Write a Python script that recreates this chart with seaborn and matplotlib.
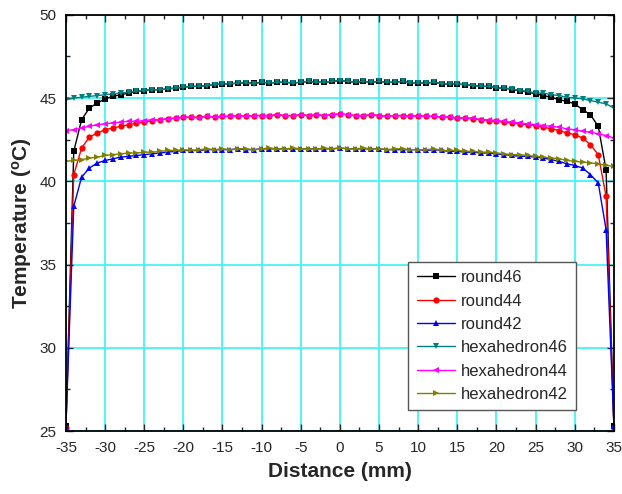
import matplotlib
matplotlib.use("Agg")
import matplotlib.pyplot as plt
import numpy as np
import pandas as pd
import seaborn as sns
from matplotlib.ticker import MultipleLocator

# distance from the centre, mm (one reading every mm)
distance = list(range(-35, 36))

round46 = [25.3, 41.8, 43.7, 44.4, 44.7, 44.95, 45.1, 45.2, 45.3, 45.4,
           45.45, 45.5, 45.5, 45.55, 45.6, 45.65, 45.7, 45.7, 45.75, 45.8,
           45.85, 45.85, 45.9, 45.9, 45.9, 45.95, 45.9, 45.95, 45.95, 45.9,
           45.95, 46.0, 45.95, 45.95, 46.0, 46.05, 46.0, 45.95, 46.0, 45.95,
           46.0, 45.95, 45.95, 46.0, 45.9, 45.9, 45.9, 45.95, 45.85, 45.85,
           45.85, 45.8, 45.75, 45.7, 45.7, 45.6, 45.6, 45.5, 45.45, 45.35,
           45.25, 45.15, 45.05, 44.9, 44.8, 44.65, 44.3, 44.0, 43.3, 40.7,
           25.3]
round44 = [25.2, 40.4, 42.0, 42.65, 42.9, 43.1, 43.2, 43.3, 43.4, 43.5,
           43.55, 43.65, 43.7, 43.75, 43.8, 43.85, 43.85, 43.85, 43.9, 43.85,
           43.9, 43.9, 43.95, 43.9, 43.95, 43.95, 43.95, 44.0, 43.95, 43.95,
           44.0, 43.95, 44.0, 43.95, 44.0, 44.05, 44.0, 43.95, 43.95, 44.0,
           43.95, 43.9, 43.95, 43.95, 43.9, 43.95, 43.9, 43.9, 43.85, 43.85,
           43.8, 43.8, 43.75, 43.7, 43.65, 43.6, 43.55, 43.5, 43.45, 43.4,
           43.35, 43.25, 43.15, 43.05, 42.9, 42.8, 42.6, 42.2, 41.6, 39.1,
           25.2]
round42 = [25.3, 38.5, 40.25, 40.8, 41.1, 41.25, 41.35, 41.45, 41.5, 41.55,
           41.6, 41.65, 41.7, 41.75, 41.8, 41.85, 41.85, 41.85, 41.9, 41.9,
           41.9, 41.9, 41.95, 41.9, 41.9, 41.95, 41.95, 41.95, 41.95, 41.95,
           41.95, 41.95, 41.95, 41.95, 41.95, 42.0, 41.95, 41.95, 41.95, 41.95,
           41.95, 41.9, 41.9, 41.9, 41.9, 41.9, 41.85, 41.9, 41.85, 41.8,
           41.8, 41.75, 41.75, 41.7, 41.7, 41.65, 41.6, 41.55, 41.5, 41.5,
           41.45, 41.4, 41.3, 41.2, 41.05, 40.95, 40.8, 40.4, 39.9, 37.1,
           25.3]
hexahedron46 = [44.9, 45.0, 45.05, 45.1, 45.15, 45.2, 45.25, 45.3, 45.35, 45.4,
                45.45, 45.5, 45.5, 45.55, 45.6, 45.65, 45.7, 45.7, 45.75, 45.8,
                45.85, 45.85, 45.9, 45.9, 45.85, 45.95, 45.9, 45.95, 45.95, 45.9,
                45.95, 46.0, 45.95, 45.95, 46.0, 46.05, 46.0, 45.95, 46.0, 45.95,
                46.0, 45.95, 45.95, 46.0, 45.9, 45.9, 45.9, 45.95, 45.85, 45.85,
                45.85, 45.8, 45.75, 45.7, 45.7, 45.6, 45.6, 45.55, 45.45, 45.4,
                45.3, 45.3, 45.2, 45.15, 45.05, 45.0, 44.95, 44.85, 44.75, 44.65,
                44.4]
hexahedron44 = [43.05, 43.1, 43.2, 43.3, 43.4, 43.45, 43.5, 43.55, 43.6, 43.6,
                43.65, 43.7, 43.7, 43.75, 43.8, 43.85, 43.85, 43.8, 43.9, 43.85,
                43.9, 43.9, 43.95, 43.9, 43.95, 43.95, 43.95, 44.0, 43.95, 43.95,
                44.0, 43.95, 44.0, 43.95, 44.0, 44.05, 44.0, 43.95, 43.95, 44.0,
                43.95, 43.9, 43.95, 43.95, 43.9, 43.95, 43.9, 43.9, 43.85, 43.85,
                43.8, 43.8, 43.8, 43.7, 43.7, 43.65, 43.6, 43.55, 43.5, 43.45,
                43.4, 43.35, 43.3, 43.25, 43.15, 43.1, 43.0, 42.95, 42.85, 42.75,
                42.6]
hexahedron42 = [41.2, 41.25, 41.3, 41.4, 41.45, 41.55, 41.6, 41.65, 41.7, 41.7,
                41.75, 41.75, 41.8, 41.85, 41.85, 41.9, 41.85, 41.9, 41.95, 41.9,
                41.95, 41.9, 41.95, 41.95, 41.9, 41.95, 42.0, 41.95, 41.95, 42.0,
                41.95, 41.95, 41.95, 42.0, 41.95, 42.0, 41.95, 41.95, 42.0, 41.95,
                41.95, 41.9, 41.95, 41.95, 41.9, 41.9, 41.9, 41.95, 41.85, 41.85,
                41.85, 41.8, 41.8, 41.75, 41.75, 41.7, 41.65, 41.6, 41.6, 41.55,
                41.5, 41.45, 41.4, 41.35, 41.25, 41.2, 41.15, 41.1, 41.05, 40.95,
                40.9]

series = {
    "round46": round46,
    "round44": round44,
    "round42": round42,
    "hexahedron46": hexahedron46,
    "hexahedron44": hexahedron44,
    "hexahedron42": hexahedron42,
}
colors = ["#000000", "#ff0000", "#0000ff", "#008080", "#ff00ff", "#808000"]
marker_styles = ["s", "o", "^", "v", "<", ">"]

df = pd.concat(
    [pd.DataFrame({"Distance": distance, "Temperature": vals, "series": name})
     for name, vals in series.items()],
    ignore_index=True,
)

sns.set_style("ticks")
plt.rcParams["font.family"] = ["Liberation Sans", "DejaVu Sans"]
plt.rcParams["axes.unicode_minus"] = False
plt.rcParams["mathtext.fontset"] = "custom"
plt.rcParams["mathtext.rm"] = "Liberation Sans"
plt.rcParams["mathtext.bf"] = "Liberation Sans:bold"

fig = plt.figure(figsize=(6.22, 4.94), dpi=100)
ax = fig.add_axes([0.106, 0.1275, 0.881, 0.8425])

names = list(series.keys())
sns.lineplot(
    data=df, x="Distance", y="Temperature", hue="series", style="series",
    hue_order=names, style_order=names,
    palette=dict(zip(names, colors)),
    markers=dict(zip(names, marker_styles)), dashes=False,
    linewidth=1, markersize=4.5, markeredgewidth=0, ax=ax,
)

ax.set_xlim(-35, 35)
ax.set_ylim(25, 50)
ax.xaxis.set_major_locator(MultipleLocator(5))
ax.xaxis.set_minor_locator(MultipleLocator(2.5))
ax.yaxis.set_major_locator(MultipleLocator(5))
ax.yaxis.set_minor_locator(MultipleLocator(2.5))
ax.grid(True, which="major", color="#44f4f4", linewidth=1.3)
ax.set_axisbelow(True)
ax.tick_params(which="both", direction="in", top=True, right=True,
               labelsize=11, width=1)
ax.tick_params(which="major", length=5)
ax.tick_params(axis="x", which="major", pad=7)
ax.tick_params(axis="y", which="major", pad=7)
ax.tick_params(which="minor", length=3)
for sp in ax.spines.values():
    sp.set_linewidth(1.3)
    sp.set_color("black")

ax.set_xlabel("Distance (mm)", fontsize=15, fontweight="bold", labelpad=5)
ax.set_ylabel(r"Temperature ($\mathregular{^o}$C)", fontsize=15,
              fontweight="bold", labelpad=4)

leg = ax.legend(loc="lower right", bbox_to_anchor=(0.931, 0.05), fontsize=12,
                frameon=True, fancybox=False, handlelength=2.3,
                borderpad=0.5, labelspacing=0.5, handletextpad=0.35,
                borderaxespad=0)
leg.get_frame().set_edgecolor("#555555")
leg.get_frame().set_linewidth(1)
leg.get_frame().set_alpha(1)

fig.savefig("out.png", dpi=100)
